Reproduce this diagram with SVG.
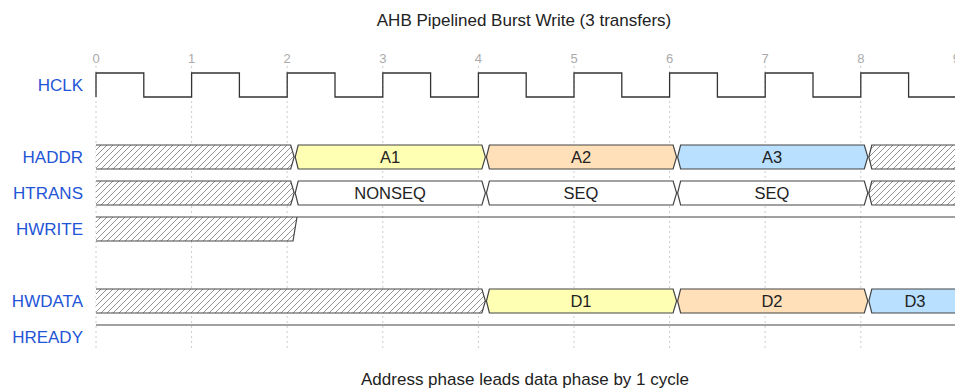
<svg xmlns="http://www.w3.org/2000/svg" width="955" height="388" viewBox="0 0 955 388">
<style>
text{font-family:"Liberation Sans",Arial,sans-serif}
.title{font-size:17px;fill:#222;text-anchor:middle}
.tick{font-size:13px;fill:#aaa;text-anchor:middle}
.lbl{font-size:17px;fill:#1f55d6;text-anchor:end}
.dl{font-size:16.5px;fill:#222;text-anchor:middle}
.grid{stroke:#ccc;stroke-width:1;stroke-dasharray:2,3;fill:none}
.wave{stroke:#333;stroke-width:1.3;fill:none}
.box{stroke:#444;stroke-width:1.2;stroke-linejoin:miter}
.hx{fill:url(#hatch);stroke:none}
.y{fill:#ffffb4}.o{fill:#ffe0b9}.b{fill:#b9e0ff}.w{fill:#fff}
</style>
<defs>
<pattern id="hatch" patternUnits="userSpaceOnUse" width="6" height="6">
<rect width="6" height="6" fill="#fff"/>
<path d="M-1,1 L1,-1 M0,6 L6,0 M5,7 L7,5" stroke="#888" stroke-width="0.9"/>
</pattern>
</defs>
<rect width="955" height="388" fill="#fff"/>
<text class="title" x="524" y="26">AHB Pipelined Burst Write (3 transfers)</text>
<g id="ticks">
<text class="tick" x="96" y="63">0</text>
<text class="tick" x="191.6" y="63">1</text>
<text class="tick" x="287.2" y="63">2</text>
<text class="tick" x="382.8" y="63">3</text>
<text class="tick" x="478.4" y="63">4</text>
<text class="tick" x="574" y="63">5</text>
<text class="tick" x="669.6" y="63">6</text>
<text class="tick" x="765.2" y="63">7</text>
<text class="tick" x="860.8" y="63">8</text>
<text class="tick" x="956.4" y="63">9</text>
</g>
<g id="connectors">
<path class="grid" d="M96,66V351M191.6,66V351M287.2,66V351M382.8,66V351M478.4,66V351M574,66V351M669.6,66V351M765.2,66V351M860.8,66V351"/>
</g>
<g id="HCLK">
<text class="lbl" x="83" y="91">HCLK</text>
<path class="wave" d="M96,97V73H143.8V97H191.6V73H239.4V97H287.2V73H335V97H382.8V73H430.6V97H478.4V73H526.2V97H574V73H621.8V97H669.6V73H717.4V97H765.2V73H813V97H860.8V73H908.6V97H960"/>
</g>
<g id="HADDR">
<text class="lbl" x="83" y="163">HADDR</text>
<path class="hx" d="M96,145H290.7L294.2,157L290.7,169H96Z"/>
<path class="box" fill="none" d="M96,145H290.7L294.2,157L290.7,169H96"/>
<path class="box y" d="M298.2,145H481.9L485.4,157L481.9,169H298.2L295.2,157Z"/>
<path class="box o" d="M489.4,145H673.1L676.6,157L673.1,169H489.4L486.4,157Z"/>
<path class="box b" d="M680.6,145H864.3L867.8,157L864.3,169H680.6L677.6,157Z"/>
<path class="hx" d="M871.8,145H960V169H871.8L868.8,157Z"/>
<path class="box" fill="none" d="M960,145H871.8L868.8,157L871.8,169H960"/>
<text class="dl" x="390" y="163">A1</text>
<text class="dl" x="581" y="163">A2</text>
<text class="dl" x="772" y="163">A3</text>
</g>
<g id="HTRANS">
<text class="lbl" x="83" y="199">HTRANS</text>
<path class="hx" d="M96,181H290.7L294.2,193L290.7,205H96Z"/>
<path class="box" fill="none" d="M96,181H290.7L294.2,193L290.7,205H96"/>
<path class="box w" d="M298.2,181H481.9L485.4,193L481.9,205H298.2L295.2,193Z"/>
<path class="box w" d="M489.4,181H673.1L676.6,193L673.1,205H489.4L486.4,193Z"/>
<path class="box w" d="M680.6,181H864.3L867.8,193L864.3,205H680.6L677.6,193Z"/>
<path class="hx" d="M871.8,181H960V205H871.8L868.8,193Z"/>
<path class="box" fill="none" d="M960,181H871.8L868.8,193L871.8,205H960"/>
<text class="dl" x="390" y="199">NONSEQ</text>
<text class="dl" x="581" y="199">SEQ</text>
<text class="dl" x="772" y="199">SEQ</text>
</g>
<g id="HWRITE">
<text class="lbl" x="83" y="235">HWRITE</text>
<path class="hx" d="M96,217H297L293,241H96Z"/>
<path class="box" fill="none" d="M96,241H293L297,217"/>
<path class="box" fill="none" d="M96,217H960"/>
</g>
<g id="HWDATA">
<text class="lbl" x="83" y="307">HWDATA</text>
<path class="hx" d="M96,289H481.9L485.4,301L481.9,313H96Z"/>
<path class="box" fill="none" d="M96,289H481.9L485.4,301L481.9,313H96"/>
<path class="box y" d="M489.4,289H673.1L676.6,301L673.1,313H489.4L486.4,301Z"/>
<path class="box o" d="M680.6,289H864.3L867.8,301L864.3,313H680.6L677.6,301Z"/>
<path class="box b" d="M960,289H871.8L868.8,301L871.8,313H960"/>
<text class="dl" x="581" y="307">D1</text>
<text class="dl" x="772" y="307">D2</text>
<text class="dl" x="915" y="307">D3</text>
</g>
<g id="HREADY">
<text class="lbl" x="83" y="343">HREADY</text>
<path class="box" fill="none" d="M96,325H960"/>
</g>
<text class="title" x="525" y="385">Address phase leads data phase by 1 cycle</text>
</svg>
